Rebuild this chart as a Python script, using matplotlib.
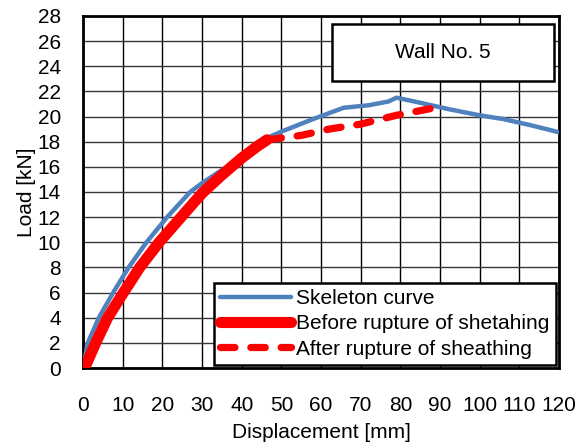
import matplotlib
matplotlib.use("Agg")
import matplotlib.pyplot as plt
from matplotlib.patches import Rectangle

# values
skel_x = [0, 1.2, 4.0, 7.6, 11.5, 16.0, 21.2, 27, 30, 35, 40, 44, 46.4, 50, 58, 65.7, 72, 77, 79, 85, 92, 100, 106, 113, 120]
skel_y = [0, 2.0, 4.0, 6.0, 8.0, 10.0, 12.0, 14.0, 14.7, 15.75, 16.6, 17.5, 18.3, 18.8, 19.8, 20.7, 20.9, 21.2, 21.5, 21.1, 20.6, 20.1, 19.8, 19.3, 18.75]

before_x = [0.4, 3.2, 6.2, 10.2, 14.3, 19.2, 25, 30, 35, 40, 44, 46.4]
before_y = [0, 2.0, 4.0, 6.0, 8.0, 10.0, 12.1, 13.9, 15.35, 16.7, 17.65, 18.15]

after_x = [46.4, 55, 62, 70, 79, 90.3]
after_y = [18.15, 18.5, 19.0, 19.4, 20.1, 20.8]

x_ticks = list(range(0, 121, 10))
y_ticks = list(range(0, 29, 2))

plt.rcParams['font.family'] = ['Liberation Sans', 'DejaVu Sans']
plt.rcParams['font.size'] = 15

fig = plt.figure(figsize=(5.79, 4.43), dpi=100)
ax = fig.add_axes([0.1434, 0.1693, 0.8221, 0.7946])

ax.plot(skel_x, skel_y, color='#4F81BD', lw=3.2, solid_capstyle='round',
        solid_joinstyle='round', label='Skeleton curve', zorder=3)
ax.plot(before_x, before_y, color='#FF0000', lw=8, solid_capstyle='round',
        solid_joinstyle='round', label='Before rupture of shetahing', zorder=4)
ax.plot(after_x, after_y, color='#FF0000', lw=5.2, dashes=(2.0, 2.2),
        dash_capstyle='round', label='After rupture of sheathing', zorder=4)

ax.set_xlim(0, 120)
ax.set_ylim(0, 28)
ax.set_xticks(x_ticks)
ax.set_yticks(y_ticks)
ax.tick_params(axis='both', length=0, labelsize=15)
ax.tick_params(axis='x', pad=20)
ax.tick_params(axis='y', pad=16)

ax.grid(axis='x', color='black', lw=1.0)
ax.grid(axis='y', color='#383838', lw=1.0)
ax.set_axisbelow(True)
for s in ax.spines.values():
    s.set_linewidth(2)
    s.set_color('black')

ax.set_xlabel('Displacement [mm]', fontsize=15, labelpad=6)
ax.set_ylabel('Load [kN]', fontsize=15, labelpad=1)

# caption box
ax.add_patch(Rectangle((0.523, 0.815), 0.466, 0.162, transform=ax.transAxes,
                       facecolor='white', edgecolor='black', lw=1.8, zorder=5))
ax.text(0.756, 0.896, 'Wall No. 5', transform=ax.transAxes, ha='center',
        va='center', fontsize=15, zorder=6)

leg = ax.legend(loc='lower right', bbox_to_anchor=(1.0, 0.0), borderaxespad=0.15,
                fontsize=15, handlelength=3.4, handletextpad=0.25,
                labelspacing=0.3, borderpad=0.3, fancybox=False, framealpha=1)
leg.get_frame().set_edgecolor('black')
leg.get_frame().set_linewidth(1.8)
leg.set_zorder(6)

fig.savefig('out.png', dpi=100)
